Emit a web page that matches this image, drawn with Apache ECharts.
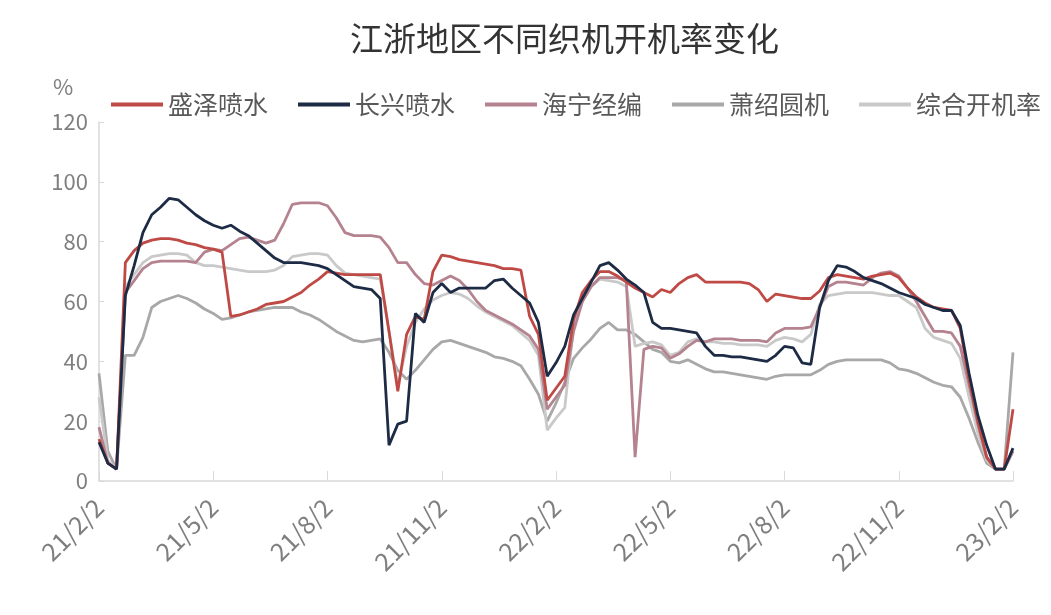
<!DOCTYPE html>
<html>
<head>
<meta charset="utf-8">
<script src="https://cdn.jsdelivr.net/npm/echarts/dist/echarts.min.js"></script>
<style>
  html, body { margin: 0; padding: 0; background: #ffffff; }
  #chart { width: 1051px; height: 615px; }
</style>
</head>
<body>
<div id="chart"></div>
<script>
// Weekly loom operating rates (%), 105 weeks starting 2021-02-02
const tickLabels = ['21/2/2', '21/5/2', '21/8/2', '21/11/2', '22/2/2', '22/5/2', '22/8/2', '22/11/2', '23/2/2'];
const weeksPerTick = 13;

const shengze = [
  14, 6, 4, 73, 77, 79.5, 80.5, 81, 81, 80.5, 79.5, 79, 78,
  77.5, 76.5, 55, 55.5, 56.5, 57.5, 59, 59.5, 60, 61.5, 63, 65.5, 67.5,
  70, 69.5, 69, 69, 69, 69, 69, 50, 30, 49, 55, 54, 70,
  75.5, 75, 74, 73.5, 73, 72.5, 72, 71, 71, 70.5, 55, 49, 27,
  31, 35, 54, 63, 67, 70, 70, 68.5, 66.5, 64.5, 63, 61.5, 64,
  63, 66, 68, 69, 66.5, 66.5, 66.5, 66.5, 66.5, 66, 64, 60, 62.5,
  62, 61.5, 61, 61, 63.5, 68, 69, 68.5, 68, 67.5, 68.5, 69, 69.5,
  68, 64.5, 61.5, 59.5, 58, 57.5, 57, 51, 34, 20, 8, 4, 4,
  24
];

const changxing = [
  13, 6, 4, 62, 72, 83, 89, 91.5, 94.5, 94, 91.5, 89, 87,
  85.5, 84.5, 85.5, 83.5, 82, 79.5, 77, 74.5, 73, 73, 73, 72.5, 72,
  71, 69, 67, 65, 64.5, 64, 61, 12, 19, 20, 56, 53, 63,
  66, 63, 64.5, 64.5, 64.5, 64.5, 67, 67.5, 64.5, 62, 59.5, 53, 35,
  39.5, 45, 55.5, 61, 66.5, 72, 73, 70.5, 67.5, 65.5, 63, 53, 51,
  51, 50.5, 50, 49.5, 45, 42, 42, 41.5, 41.5, 41, 40.5, 40, 42,
  45, 44.5, 39.5, 39, 58, 67, 72, 71.5, 70, 68, 67, 66, 64.5,
  63, 62, 61, 59, 58, 57, 57, 52, 36, 22, 12, 4, 4,
  11
];

const haining = [
  18, 6, 4, 63, 67, 71, 73, 73.5, 73.5, 73.5, 73.5, 73, 76.5,
  77.5, 77, 79, 81, 81.5, 80.5, 79.5, 80.5, 86, 92.5, 93, 93, 93,
  92, 88, 83, 82, 82, 82, 81.5, 78, 73, 73, 69, 66, 65.5,
  67, 68.5, 67, 64, 60, 57, 55.5, 54, 52.5, 50.5, 48.5, 44, 24,
  28, 32, 50, 60, 65, 68, 68, 68, 67, 8, 44, 45, 44.5,
  41, 42.5, 45, 47, 46.5, 47.5, 47.5, 47.5, 47, 47, 47, 46.5, 49.5,
  51, 51, 51, 51.5, 58, 65, 66.5, 66.5, 66, 65.5, 68, 69.5, 70,
  68.5, 64.5, 60, 55, 50, 50, 49.5, 45, 32, 19, 8, 4, 4,
  10
];

const xiaoshao = [
  36, 10, 4, 42, 42, 48, 58, 60, 61, 62, 61, 59.5, 57.5,
  56, 54, 54.5, 55.5, 56.5, 57, 57.5, 58, 58, 58, 56.5, 55.5, 54,
  52, 50, 48.5, 47, 46.5, 47, 47.5, 43, 37, 34, 37, 40.5, 44,
  46.5, 47, 46, 45, 44, 43, 41.5, 41, 40, 38.5, 34, 29, 20,
  26, 33, 41, 44.5, 47.5, 51, 53, 50.5, 50.5, 49, 46.5, 44, 43,
  40, 39.5, 40.5, 39, 37.5, 36.5, 36.5, 36, 35.5, 35, 34.5, 34, 35,
  35.5, 35.5, 35.5, 35.5, 37, 39, 40, 40.5, 40.5, 40.5, 40.5, 40.5, 39.5,
  37.5, 37, 36, 34.5, 33, 32, 31.5, 28, 21, 13, 6, 4, 4,
  43
];

const overall = [
  28, 7, 4, 65, 69, 73, 75, 75.5, 76, 76, 75.5, 73, 72,
  72, 71.5, 71, 70.5, 70, 70, 70, 70.5, 72, 75, 75.5, 76, 76,
  75.5, 72, 69.5, 69, 68.5, 68, 67.5, 50, 32, 45, 53, 57.5, 60.5,
  62, 63, 62.5, 61, 58.5, 56.5, 55, 53.5, 52, 49.5, 47, 42, 17,
  21, 24.5, 52, 60, 65, 67.5, 67, 66.5, 65, 45, 46, 46.5, 45.5,
  42, 43, 46.5, 47.5, 46.5, 46.5, 46, 46, 45.5, 45.5, 45.5, 45, 47,
  48, 47.5, 46.5, 49, 59, 62, 62.5, 63, 63, 63, 63, 62.5, 62,
  62, 60, 58, 51, 48, 47, 46, 41, 28, 16, 7, 4, 4,
  10
];

// Week-start dates used as the category axis
const categories = shengze.map((_, i) => {
  const d = new Date(Date.UTC(2021, 1, 2 + 7 * i));
  return (d.getUTCFullYear() % 100) + '/' + (d.getUTCMonth() + 1) + '/' + d.getUTCDate();
});

const seriesDefs = [
  { name: '盛泽喷水', data: shengze, color: '#bf4a45', z: 4 },
  { name: '长兴喷水', data: changxing, color: '#1d2b45', z: 5 },
  { name: '海宁经编', data: haining, color: '#b5838f', z: 3 },
  { name: '萧绍圆机', data: xiaoshao, color: '#a8a8a8', z: 2 },
  { name: '综合开机率', data: overall, color: '#c9c9c9', z: 2 }
];

const axisGray = '#d9d9d9';
const labelGray = '#7f7f7f';
const fontFamily = '"Noto Sans CJK SC", "Noto Sans", sans-serif';

const chart = echarts.init(document.getElementById('chart'), null, { renderer: 'canvas' });

chart.setOption({
  backgroundColor: '#ffffff',
  animation: false,
  textStyle: { fontFamily: fontFamily },
  title: {
    text: '江浙地区不同织机开机率变化',
    left: 345,
    top: 17,
    textStyle: { fontSize: 33, fontWeight: 'normal', color: '#333333', fontFamily: fontFamily }
  },
  legend: {
    left: 111,
    top: 92,
    width: 940,
    padding: 0,
    icon: 'rect',
    itemWidth: 52,
    itemHeight: 4,
    itemGap: 30,
    textStyle: { fontSize: 25, color: '#595959', fontFamily: fontFamily },
    data: seriesDefs.map(s => s.name)
  },
  graphic: [{
    type: 'text',
    left: 53,
    top: 76,
    style: { text: '%', fontSize: 22, fill: labelGray, fontFamily: fontFamily }
  }],
  grid: { left: 99, right: 38, top: 122, bottom: 134, containLabel: false },
  xAxis: {
    type: 'category',
    boundaryGap: false,
    data: categories,
    axisLine: { lineStyle: { color: axisGray, width: 1.5 } },
    axisTick: { show: true, inside: true, length: 10, interval: weeksPerTick - 1, lineStyle: { color: axisGray } },
    axisLabel: {
      interval: weeksPerTick - 1,
      rotate: 45,
      margin: 22,
      fontSize: 25,
      color: labelGray,
      formatter: (value, index) => (index % weeksPerTick === 0 ? tickLabels[index / weeksPerTick] : '')
    },
    splitLine: { show: false }
  },
  yAxis: {
    type: 'value',
    min: 0,
    max: 120,
    interval: 20,
    axisLine: { show: true, lineStyle: { color: axisGray, width: 1.5 } },
    axisTick: { show: true, inside: true, length: 5, lineStyle: { color: axisGray } },
    axisLabel: { fontSize: 22, color: labelGray, margin: 11 },
    splitLine: { show: false }
  },
  series: seriesDefs.map(s => ({
    name: s.name,
    type: 'line',
    data: s.data,
    z: s.z,
    showSymbol: false,
    symbol: 'none',
    smooth: false,
    color: s.color,
    lineStyle: { width: 2.8, color: s.color },
    emphasis: { disabled: true }
  }))
});
</script>
</body>
</html>
